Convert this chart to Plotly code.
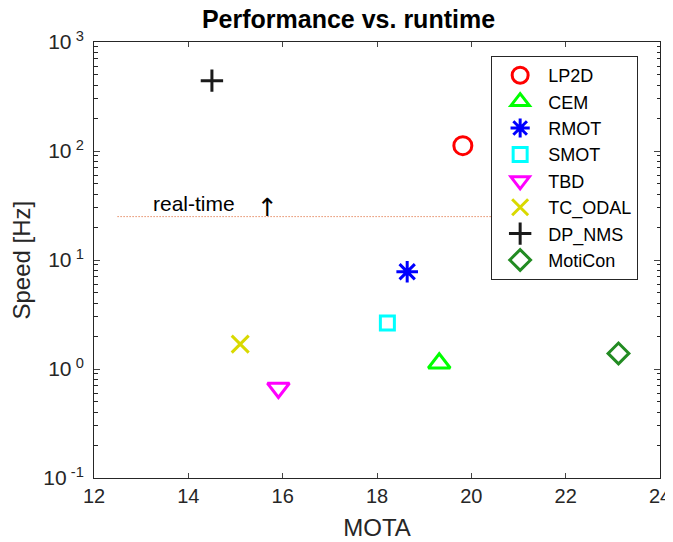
import math
import plotly.graph_objects as go

methods = ["LP2D", "CEM", "RMOT", "SMOT", "TBD", "TC_ODAL", "DP_NMS", "MotiCon"]
mota = [19.82, 19.32, 18.64, 18.22, 15.91, 15.10, 14.50, 23.12]
speed = [112, 1.13, 7.8, 2.64, 0.67, 1.69, 442, 1.39]
symbols = ["circle-open", "triangle-up-open", "asterisk-open", "square-open",
           "triangle-down-open", "x-thin-open", "cross-thin-open", "diamond-open"]
sizes = [18, 19, 18, 14, 19, 17, 16, 16]
colors = ["#FF0000", "#00FF00", "#0000FF", "#00FFFF", "#FF00FF", "#D9D900", "#1A1A1A", "#228B22"]

realtime_level = 25
realtime_x = [12.5, 21.0]

x_ticks = [12, 14, 16, 18, 20, 22, 24]
y_ticks = [0.1, 1, 10, 100, 1000]
y_ticktext = ["10<sup> -1</sup>", "10<sup> 0</sup>", "10<sup> 1</sup>", "10<sup> 2</sup>", "10<sup> 3</sup>"]
y_minor = [m * 10 ** e for e in range(-1, 3) for m in range(2, 10)]

FONT = "Liberation Sans, Arial, Helvetica, sans-serif"
AX = "#262626"

# page has an 8px body margin; figure is sized to fit the window
W, H = 665, 534
L, R, T, B = 85.5, 13, 34, 64
PW, PH = W - L - R, H - T - B

fig = go.Figure()
fig.add_trace(go.Scatter(x=realtime_x, y=[realtime_level] * len(realtime_x), mode="lines",
                         line=dict(color="#D95319", width=1, dash="1px,2px"),
                         showlegend=False, hoverinfo="skip"))
for m, x, y, s, sz, c in zip(methods, mota, speed, symbols, sizes, colors):
    fig.add_trace(go.Scatter(x=[x], y=[y], mode="markers", name=m,
                             marker=dict(symbol=s, size=sz, color=c,
                                         line=dict(color=c, width=3))))
# invisible trace on the minor-tick axis so it is drawn
fig.add_trace(go.Scatter(x=[12], y=[1], yaxis="y2", mode="markers",
                         marker=dict(size=0.1, opacity=0), showlegend=False, hoverinfo="skip"))

ly = math.log10(realtime_level)
fig.add_annotation(x=13.2, y=ly, xref="x", yref="y", text="real-time", showarrow=False,
                   xanchor="left", yanchor="bottom", font=dict(size=21, color="#000000"), yshift=0)
fig.add_annotation(x=15.67, y=ly, xref="x", yref="y", text="↑", showarrow=False,
                   xanchor="center", yanchor="bottom",
                   font=dict(size=25, color="#000000", family="DejaVu Sans"), yshift=-7)
fig.add_annotation(x=(12 - L) / PW, y=0.5, xref="paper", yref="paper", text="Speed [Hz]",
                   showarrow=False, textangle=-90, xanchor="center", yanchor="middle",
                   font=dict(size=24, color=AX))

fig.update_layout(
    width=W, height=H,
    margin=dict(l=L, r=R, t=T, b=B, pad=0),
    paper_bgcolor="white", plot_bgcolor="white",
    font=dict(family=FONT, size=20, color=AX),
    title=dict(text="<b>Performance vs. runtime</b>", x=340.5 / W, xanchor="center",
               y=1 - 2 / H, yanchor="top", font=dict(size=25, color="#000000")),
    showlegend=True,
    legend=dict(x=(483 - L) / PW, y=(H - B - 48) / PH, xanchor="left", yanchor="top",
                bgcolor="white", bordercolor=AX, borderwidth=1, itemwidth=46,
                font=dict(size=18, color="#000000")),
    xaxis=dict(range=[12, 24], tickvals=x_ticks, ticks="inside", ticklen=5,
               showline=True, linecolor=AX, linewidth=1, mirror="ticks",
               showgrid=False, zeroline=False, tickfont=dict(size=20, color=AX),
               automargin=False,
               title=dict(text="MOTA", font=dict(size=24, color=AX), standoff=13)),
    yaxis=dict(type="log", range=[-1, 3], tickvals=y_ticks, ticktext=y_ticktext,
               ticks="inside", ticklen=6, showline=True, linecolor=AX, linewidth=1,
               mirror="ticks", showgrid=False, zeroline=False, ticklabelstandoff=5,
               tickfont=dict(size=21, color=AX), automargin=False),
    yaxis2=dict(type="log", range=[-1, 3], overlaying="y", side="left",
                tickvals=y_minor, ticks="inside", ticklen=3.5, tickcolor=AX, tickwidth=1,
                showticklabels=False, showline=False, mirror="ticks",
                showgrid=False, zeroline=False, automargin=False),
)

fig.write_html("out.html")
